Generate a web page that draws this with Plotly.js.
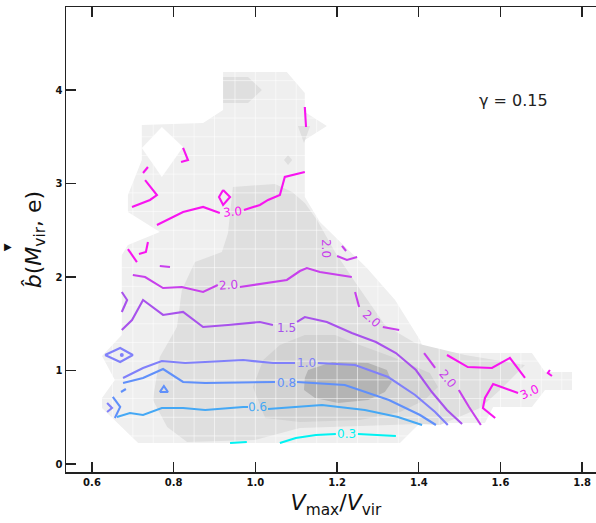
<!DOCTYPE html>
<html><head><meta charset="utf-8">
<script src="https://cdn.plot.ly/plotly-3.0.1.min.js"></script>
<style>html,body{margin:0;padding:0;overflow:hidden;background:#fff}</style>
</head><body>
<div id="chart" style="width:610px;height:523px"></div>
<script>
// ---- grey density regions ----
const fillL1x = [0.921,1.077,1.121,1.121,1.158,1.273,1.342,1.403,1.415,1.677,1.709,1.775,1.775,1.709,1.677,1.582,1.562,1.403,1.354,0.713,0.6245,0.6245,0.656,0.6245,0.673,0.673,0.688,0.766,0.688,0.688,0.722,0.722,0.872,0.921,null,1.121,1.175,1.121];
const fillL1y = [4.192,4.192,3.968,2.856,2.588,2.096,1.754,1.326,1.187,1.187,0.984,0.984,0.791,0.791,0.610,0.610,0.438,0.438,0.225,0.225,0.599,0.706,0.898,1.155,1.380,2.235,2.342,2.481,2.695,2.877,3.251,3.626,3.647,3.786,null,3.765,3.615,3.465];
const holeX = [0.771,0.823,0.771,0.722];
const holeY = [3.604,3.390,3.070,3.380];
const fillL2x = [0.945,1.048,1.090,1.121,1.151,1.195,1.244,1.317,1.391,1.513,1.660,1.599,1.550,1.452,1.403,1.109,0.999,0.833,0.784,0.749,0.766,0.808,0.820,0.852,0.918,0.933,null,0.921,0.982,1.016,0.982,0.921,null,1.070,1.080,1.090,1.080,null,1.104,1.134,1.119];
const fillL2y = [2.963,2.995,2.909,2.791,2.610,2.267,1.946,1.487,1.294,1.166,1.059,0.791,0.599,0.417,0.428,0.385,0.257,0.235,0.396,0.684,1.144,1.465,1.861,2.160,2.267,2.471,null,4.139,4.139,4.0,3.861,3.861,null,3.251,3.305,3.251,3.198,null,3.615,3.615,3.433];
const fillL3x = [0.994,1.019,1.060,1.121,1.195,1.256,1.342,1.427,1.447,1.415,1.354,1.256,1.109,1.024];
const fillL3y = [0.824,1.112,1.273,1.380,1.380,1.273,1.134,0.973,0.824,0.684,0.556,0.471,0.449,0.492];
const fillL4x = [1.129,1.188,1.276,1.322,1.334,1.317,1.276,1.202,1.146,1.119,1.121];
const fillL4y = [1.005,1.091,1.080,1.005,0.877,0.770,0.684,0.652,0.706,0.791,0.920];

// ---- contour lines of b-hat (segments per level) ----
const levels = ['0.3','0.6','0.8','1.0','1.5','2.0','3.0'];
const levelColors = ['#00f2f2','#45a8f5','#6090fa','#8080fa','#a852ec','#c840ec','#f814f0'];
const lvl03x = [[0.938,0.979],[1.060,1.099,1.148,1.197],[1.251,1.344]];
const lvl03y = [[0.225,0.235],[0.225,0.278,0.310,0.321],[0.321,0.299]];
const lvl06x = [[0.661,0.693,0.725,0.771,0.823,0.877,0.970,0.982],[1.031,1.090,1.163,1.268,1.349,1.408]];
const lvl06y = [[0.503,0.545,0.524,0.599,0.599,0.578,0.610,0.610],[0.588,0.610,0.631,0.578,0.503,0.417]];
const lvl08x = [[0.676,0.725,0.774,0.823,0.877,1.011,1.048],[1.102,1.219,1.327,1.403,1.442],[0.766,0.776,0.786,0.766],[0.671,0.683],[0.651,0.669,0.656]];
const lvl08y = [[0.866,0.920,1.016,0.877,0.866,0.877,0.877],[0.877,0.845,0.684,0.524,0.417],[0.770,0.834,0.770,0.770],[0.770,0.802],[0.717,0.610,0.492]];
const lvl10x = [[0.632,0.669,0.700,0.669,0.632],[0.676,0.725,0.771,0.828,0.877,0.970,1.043,1.097],[1.153,1.244,1.325,1.391,1.440,1.471],[0.637,0.649,0.637]];
const lvl10y = [[1.166,1.241,1.166,1.091,1.166],[0.920,1.027,1.102,1.080,1.091,1.112,1.080,1.080],[1.080,1.059,0.930,0.738,0.556,0.417],[0.652,0.599,0.556]];
const lvl15x = [[0.673,0.686,0.673],[0.673,0.698,0.725,0.774,0.823,0.872,0.933,1.011,1.043],[1.102,1.121,1.175,1.236,1.295,1.344,1.393,1.432,1.469,1.506]];
const lvl15y = [[1.840,1.754,1.626],[1.433,1.540,1.754,1.594,1.626,1.465,1.487,1.519,1.487],[1.519,1.572,1.519,1.401,1.305,1.187,1.005,0.770,0.578,0.428]];
const lvl20x = [[0.700,0.730,0.774,0.820,0.872,0.908],[0.962,1.011,1.041,1.077,1.109,1.126,1.158,1.236],[1.200,1.224,1.249],[1.212,1.222],[1.244,1.254],[1.312,1.352],[1.413,1.440],[1.498,1.523,1.552],[0.766,0.791]];
const lvl20y = [[2.021,2.000,1.882,1.893,1.840,1.914],[1.893,1.925,1.946,1.968,2.064,2.096,2.053,2.000],[2.225,2.182,2.214],[2.332,2.278],[1.840,1.679],[1.465,1.433],[1.187,1.027],[0.791,0.610,0.417],[2.118,2.107]];
const lvl30x = [[0.759,0.823,0.872,0.913],[0.972,1.011,1.031,1.060,1.072,1.121],[0.921,0.938,0.921,0.911,0.921],[0.823,0.835,0.818],[0.737,0.725],[0.730,0.759,0.742,0.698],[0.737,0.732,0.715],[0.688,0.710],[1.121,1.124],[1.469,1.520,1.579,1.623,1.660],[1.643,1.582,1.562,1.557,1.587],[1.721,1.716,1.726]];
const lvl30y = [[2.556,2.695,2.749,2.684],[2.717,2.770,2.824,2.877,3.070,3.123],[2.930,2.856,2.770,2.856,2.930],[3.380,3.251,3.230],[3.176,3.112],[3.037,2.877,2.824,2.749],[2.374,2.267,2.246],[2.299,2.160],[3.818,3.604],[1.166,1.037,1.027,1.134,0.920],[0.759,0.856,0.706,0.599,0.492],[1.005,0.973,0.941]];
const dot10x = [0.673];
const dot10y = [1.166];

// ---- inline contour labels ----
const labelText  = ['3.0','3.0','2.0','2.0','2.0','2.0','1.5','1.0','0.8','0.6','0.3'];
const labelX     = [0.943,1.672,0.935,1.173,1.285,1.471,1.075,1.126,1.075,1.004,1.224];
const labelY     = [2.695,0.770,1.914,2.310,1.551,0.909,1.455,1.080,0.866,0.610,0.321];
const labelAngle = [-5,-25,-4,90,42,50,0,0,0,-2,0];
const labelLevel = [6,6,5,5,5,5,4,3,2,1,0];

const xTicks = [0.6,0.8,1.0,1.2,1.4,1.6,1.8];
const yTicks = [0,1,2,3,4];

function joinSegs(segs){const out=[];segs.forEach((s,i)=>{if(i)out.push(null);out.push(...s);});return out;}
function poly(x,y,color){return {type:'scatter',mode:'lines',x:x,y:y,fill:'toself',fillcolor:color,line:{width:0,color:color},hoverinfo:'skip',showlegend:false,connectgaps:false};}

const traces = [
  poly(fillL1x,fillL1y,'#efefef'),
  poly(holeX,holeY,'#ffffff'),
  poly(fillL2x,fillL2y,'#dfdfdf'),
  poly(fillL3x,fillL3y,'#d2d2d2'),
  poly(fillL4x,fillL4y,'#b4b4b4')
];

// faint white mesh over the filled regions
const gx=[],gy=[];
for(let v=0.60; v<=1.801; v+=0.05){gx.push(v,v,null);gy.push(-0.1,4.9,null);}
for(let v=0.10; v<=4.801; v+=0.2){gx.push(0.5,1.9,null);gy.push(v,v,null);}
traces.push({type:'scatter',mode:'lines',x:gx,y:gy,line:{color:'rgba(255,255,255,0.55)',width:1},hoverinfo:'skip',showlegend:false});

const lvlX=[lvl03x,lvl06x,lvl08x,lvl10x,lvl15x,lvl20x,lvl30x];
const lvlY=[lvl03y,lvl06y,lvl08y,lvl10y,lvl15y,lvl20y,lvl30y];
levels.forEach((lv,i)=>{
  traces.push({type:'scatter',mode:'lines',name:lv,x:joinSegs(lvlX[i]),y:joinSegs(lvlY[i]),
    line:{color:levelColors[i],width:2.1},connectgaps:false,hoverinfo:'skip',showlegend:false});
});
traces.push({type:'scatter',mode:'markers',x:dot10x,y:dot10y,marker:{color:levelColors[3],size:4},hoverinfo:'skip',showlegend:false});

const annotations = labelText.map((t,i)=>({x:labelX[i],y:labelY[i],xref:'x',yref:'y',text:t,showarrow:false,
  textangle:labelAngle[i],font:{family:'DejaVu Sans',size:12,color:levelColors[labelLevel[i]]}}));
annotations.push({x:1.633,y:3.893,xref:'x',yref:'y',text:'γ = 0.15',showarrow:false,
  font:{family:'DejaVu Sans',size:16,color:'#222'}});
annotations.push({x:-0.1185,y:0.486,xref:'paper',yref:'paper',text:'▶',showarrow:false,
  font:{family:'DejaVu Sans',size:10,color:'#111'}});

const axisCommon = {ticks:'inside',ticklen:10,tickwidth:1.4,tickcolor:'#222',showline:true,linecolor:'#222',linewidth:1.5,
  mirror:'allticks',showgrid:false,zeroline:false,tickfont:{family:'DejaVu Sans',size:10,weight:'bold',color:'#111'}};

const layout = {
  width:610,height:523,
  margin:{l:66,r:4,t:7,b:51},
  paper_bgcolor:'#fff',plot_bgcolor:'#fff',
  showlegend:false,
  xaxis:Object.assign({},axisCommon,{range:[0.5364,1.8583],tickvals:xTicks,tickformat:'.1f',
    title:{text:'<i>V</i><sub>max</sub>/<i>V</i><sub>vir</sub>',font:{family:'DejaVu Sans',size:22,color:'#111'},standoff:8}}),
  yaxis:Object.assign({},axisCommon,{range:[-0.0856,4.8877],tickvals:yTicks,
    title:{text:'<i>b̂</i>(<i>M</i><sub>vir</sub>, e)',font:{family:'DejaVu Sans',size:22,color:'#111'},standoff:8}}),
  annotations:annotations
};
Plotly.newPlot('chart',traces,layout,{staticPlot:true,displayModeBar:false});
</script>
</body></html>
